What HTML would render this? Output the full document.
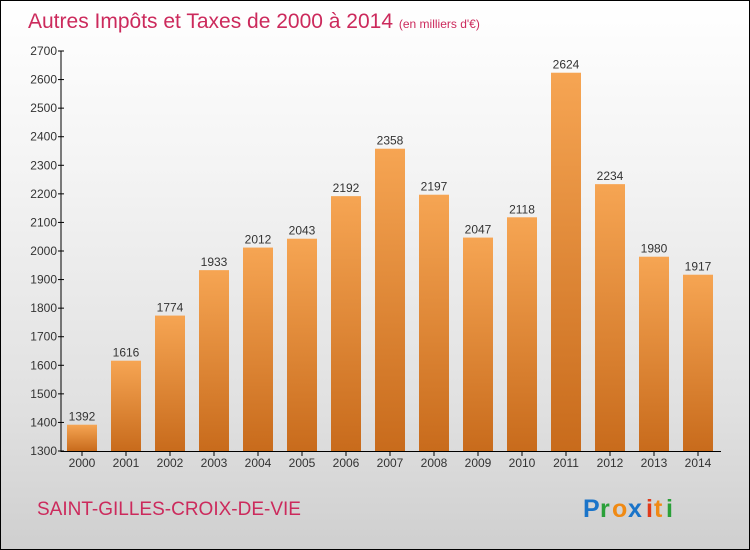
<!DOCTYPE html>
<html><head><meta charset="utf-8"><style>
body{margin:0}
#c{position:relative;width:748px;height:548px;border:1px solid #000;background:linear-gradient(#fff,#f4f4f4 30%,#e0e0e0 75%,#cfcfcf);font-family:"Liberation Sans",sans-serif;overflow:hidden}
</style></head><body>
<div id="c">
<svg width="748" height="548" id="s">
<defs><linearGradient id="g" x1="0" y1="0" x2="0" y2="1"><stop offset="0" stop-color="#f6a553"/><stop offset="1" stop-color="#c86b1c"/></linearGradient></defs>
<text x="27" y="27" font-size="21" fill="#cc2a5c">Autres Impôts et Taxes de 2000 à 2014 <tspan font-size="12">(en milliers d'€)</tspan></text>
<text x="36" y="514" font-size="19" fill="#cc2a5c">SAINT-GILLES-CROIX-DE-VIE</text>
<g font-size="25" font-weight="bold"><text x="582" y="516" fill="#1a74c9">P</text><text x="599" y="516" fill="#2aa039">r</text><text x="611" y="516" fill="#f08a14">o</text><text x="627" y="516" fill="#1a74c9">x</text><text x="645" y="516" fill="#e03a1a">i</text><text x="653" y="516" fill="#f08a14">t</text><text x="665" y="516" fill="#2aa039">i</text></g>
</svg>
</div>
<script>
const years=["2000","2001","2002","2003","2004","2005","2006","2007","2008","2009","2010","2011","2012","2013","2014"];
const values=[1392,1616,1774,1933,2012,2043,2192,2358,2197,2047,2118,2624,2234,1980,1917];
const ticks=[1300,1400,1500,1600,1700,1800,1900,2000,2100,2200,2300,2400,2500,2600,2700];
const s=document.getElementById('s'),NS="http://www.w3.org/2000/svg";
const y=v=>450-(v-1300)*(400/1400);
const x=i=>81+i*44;
function mk(t,a,txt){const e=document.createElementNS(NS,t);for(const k in a)e.setAttribute(k,a[k]);if(txt!=null)e.textContent=txt;s.appendChild(e);return e;}
let ax=mk('line',{x1:60,y1:y(2700),x2:60,y2:451,stroke:'#000'});


let bx=mk('line',{x1:60,y1:450.5,x2:720,y2:450.5,stroke:'#000'});


ticks.forEach(t=>{
 let l=mk('line',{x1:57,y1:y(t),x2:63,y2:y(t),stroke:'#000'});
 
 
 let tx=mk('text',{x:56,y:y(t)+4,'text-anchor':'end','font-size':12,fill:'#333'},t);
 
 
});
values.forEach((v,i)=>{
 let r=mk('rect',{x:x(i)-15,y:y(v),width:30,height:450-y(v),fill:'url(#g)'});
 
 
 let t=mk('text',{x:x(i),y:y(v)-4,'text-anchor':'middle','font-size':12,fill:'#333'},v);
 
 
 let l=mk('line',{x1:x(i),y1:451,x2:x(i),y2:455,stroke:'#000'});
 
 
 let yl=mk('text',{x:x(i),y:466,'text-anchor':'middle','font-size':12,fill:'#333'},years[i]);
 
 
});
</script>
</body></html>
